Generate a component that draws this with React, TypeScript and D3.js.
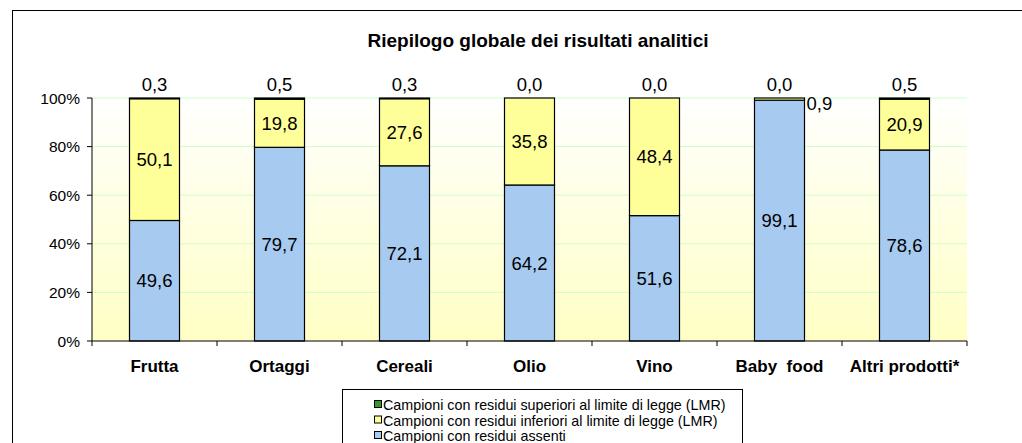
import React from "react";
import * as d3 from "d3";

const categories = ["Frutta", "Ortaggi", "Cereali", "Olio", "Vino", "Baby  food", "Altri prodotti*"];
const assenti = [49.6, 79.7, 72.1, 64.2, 51.6, 99.1, 78.6];
const inferiori = [50.1, 19.8, 27.6, 35.8, 48.4, 0.9, 20.9];
const superiori = [0.3, 0.5, 0.3, 0.0, 0.0, 0.0, 0.5];
const yTicks = [0, 20, 40, 60, 80, 100];

const seriesNames = [
  "Campioni con residui superiori al limite di legge (LMR)",
  "Campioni con residui inferiori al limite di legge (LMR)",
  "Campioni con residui assenti",
];
const colors = { assenti: "#A6CAF0", inferiori: "#FFFF99", superiori: "#339933" };

const W = 1022;
const H = 443;
const font = "'Liberation Sans', Arial, sans-serif";

const fmt = (v: number) => v.toFixed(1).replace(".", ",");

export default function App() {
  const left = 92;
  const right = 967;
  const top = 98;
  const bottom = 341;

  const x = d3.scaleBand<string>().domain(categories).range([left, right]).paddingInner(0.6).paddingOuter(0.3);
  const y = d3.scaleLinear().domain([0, 100]).range([bottom, top]);
  const bw = x.bandwidth();
  const step = x.step();

  const rows = categories.map((c, i) => {
    const a = assenti[i];
    const b = inferiori[i];
    const s = superiori[i];
    return { c, segs: [
      { key: "assenti", y0: 0, y1: a, v: a },
      { key: "inferiori", y0: a, y1: a + b, v: b },
      { key: "superiori", y0: a + b, y1: a + b + s, v: s },
    ] };
  });

  return (
    <svg width={W} height={H} style={{ position: "absolute", left: 0, top: 0 }} fontFamily={font}>
      <defs>
        <linearGradient id="bg" x1="0" y1="0" x2="0" y2="1">
          <stop offset="0" stopColor="#FFFFFF" />
          <stop offset="1" stopColor="#FFFFC4" />
        </linearGradient>
      </defs>
      <rect x={0} y={0} width={W} height={H} fill="#fff" />
      <rect x={12.5} y={10.5} width={W + 20} height={H + 20} fill="none" stroke="#000" strokeWidth={1} />
      <text x={538} y={47} textAnchor="middle" fontWeight="bold" fontSize={19}>
        Riepilogo globale dei risultati analitici
      </text>

      <rect x={left} y={top} width={right - left} height={bottom - top} fill="url(#bg)" />
      {yTicks.filter((t) => t > 0).map((t) => (
        <line key={t} x1={left} x2={right} y1={y(t)} y2={y(t)} stroke="#CCFFCC" strokeWidth={1} />
      ))}

      {rows.map((r) => (
        <g key={r.c}>
          {r.segs.map((sg) => (
            <rect
              key={sg.key}
              x={x(r.c)!}
              y={y(sg.y1)}
              width={bw}
              height={Math.max(0, y(sg.y0) - y(sg.y1))}
              fill={(colors as any)[sg.key]}
              stroke="#000"
              strokeWidth={1.2}
            />
          ))}
        </g>
      ))}

      {/* value labels */}
      {rows.map((r) =>
        r.segs.map((sg) => {
          const cx = x(r.c)! + bw / 2;
          if (sg.key === "superiori") {
            return (
              <text key={r.c + sg.key} x={cx} y={y(sg.y1) - 7.5} textAnchor="middle" fontSize={18.5}>
                {fmt(sg.v)}
              </text>
            );
          }
          const h = y(sg.y0) - y(sg.y1);
          if (h < 10) {
            return (
              <text key={r.c + sg.key} x={x(r.c)! + bw + 2} y={y(sg.y1) + 12} fontSize={18.5}>
                {fmt(sg.v)}
              </text>
            );
          }
          return (
            <text key={r.c + sg.key} x={cx} y={(y(sg.y0) + y(sg.y1)) / 2} dy="0.36em" textAnchor="middle" fontSize={18.5}>
              {fmt(sg.v)}
            </text>
          );
        })
      )}

      {/* y axis */}
      <line x1={left} x2={left} y1={top} y2={bottom} stroke="#000" />
      {yTicks.map((t) => (
        <g key={t}>
          <line x1={left - 5} x2={left} y1={y(t)} y2={y(t)} stroke="#000" />
          <text x={left - 12} y={y(t)} dy="0.36em" textAnchor="end" fontSize={15.5}>
            {t}%
          </text>
        </g>
      ))}

      {/* x axis */}
      <line x1={left} x2={right} y1={bottom} y2={bottom} stroke="#000" />
      {categories.map((c, i) => (
        <line key={c} x1={left + i * step} x2={left + i * step} y1={bottom} y2={bottom + 5} stroke="#000" />
      ))}
      <line x1={right} x2={right} y1={bottom} y2={bottom + 5} stroke="#000" />
      {categories.map((c) => (
        <text key={c} x={x(c)! + bw / 2} y={372} textAnchor="middle" fontWeight="bold" fontSize={17} style={{ whiteSpace: "pre" }}>
          {c}
        </text>
      ))}

      {/* legend */}
      <rect x={342.5} y={389.5} width={400} height={80} fill="#fff" stroke="#000" />
      {seriesNames.map((n, i) => {
        const col = [colors.superiori, colors.inferiori, colors.assenti][i];
        const ly = 405 + i * 15.5;
        return (
          <g key={n}>
            <rect x={374.5} y={ly - 4.5} width={7} height={7} fill={col} stroke="#000" />
            <text x={383} y={ly} dy="0.36em" fontSize={14.3}>
              {n}
            </text>
          </g>
        );
      })}
    </svg>
  );
}
